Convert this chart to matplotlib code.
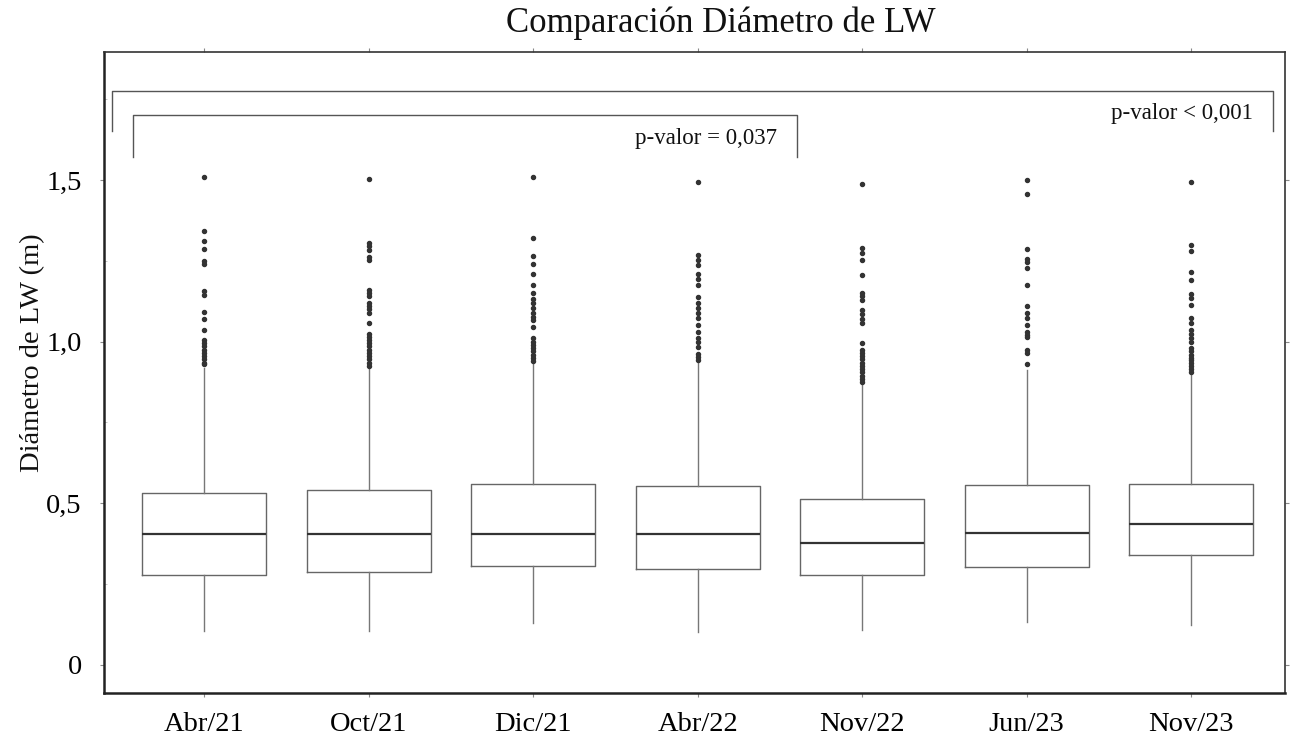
import numpy as np
import matplotlib
matplotlib.use("Agg")
import matplotlib.pyplot as plt
from matplotlib.ticker import FuncFormatter, MultipleLocator

plt.rcParams['font.family'] = ['Liberation Serif', 'DejaVu Serif']

# campañas de muestreo
labels = ['Abr/21', 'Oct/21', 'Dic/21', 'Abr/22', 'Nov/22', 'Jun/23', 'Nov/23']

# estadísticos de cada caja (m)
whislo = [0.105, 0.105, 0.130, 0.102, 0.108, 0.133, 0.124]
q1 = [0.278, 0.288, 0.306, 0.297, 0.278, 0.303, 0.340]
med = [0.405, 0.405, 0.405, 0.405, 0.377, 0.408, 0.436]
q3 = [0.532, 0.541, 0.560, 0.554, 0.513, 0.557, 0.560]
whishi = [0.919, 0.920, 0.940, 0.940, 0.866, 0.912, 0.900]

# valores atípicos
out_abr21 = [1.508, 1.341, 1.311, 1.287, 1.25, 1.24, 1.158, 1.143, 1.093, 1.069,
             1.036, 1.005, 0.995, 0.985, 0.975, 0.965, 0.955, 0.945, 0.935, 0.93]
out_oct21 = [1.503, 1.306, 1.295, 1.283, 1.263, 1.253, 1.16, 1.15, 1.14, 1.12,
             1.11, 1.10, 1.09, 1.059, 1.025, 1.015, 1.005, 0.995, 0.985, 0.975,
             0.965, 0.955, 0.945, 0.935, 0.925]
out_dic21 = [1.508, 1.32, 1.265, 1.24, 1.208, 1.174, 1.152, 1.133, 1.12, 1.105,
             1.09, 1.075, 1.067, 1.046, 1.01, 1.0, 0.99, 0.98, 0.97, 0.96, 0.95, 0.94]
out_abr22 = [1.495, 1.268, 1.253, 1.237, 1.208, 1.193, 1.174, 1.137, 1.12, 1.105,
             1.09, 1.072, 1.05, 1.031, 1.01, 1.0, 0.982, 0.962, 0.952, 0.943]
out_nov22 = [1.488, 1.289, 1.275, 1.254, 1.206, 1.15, 1.14, 1.129, 1.098, 1.085,
             1.07, 1.057, 0.995, 0.974, 0.965, 0.955, 0.945, 0.935, 0.925, 0.915,
             0.905, 0.895, 0.885, 0.875]
out_jun23 = [1.50, 1.456, 1.287, 1.257, 1.247, 1.229, 1.174, 1.11, 1.088, 1.072,
             1.05, 1.031, 1.02, 1.015, 0.974, 0.965, 0.93]
out_nov23 = [1.495, 1.299, 1.281, 1.216, 1.191, 1.148, 1.135, 1.114, 1.073, 1.058,
             1.036, 1.025, 1.01, 1.0, 0.98, 0.97, 0.96, 0.95, 0.943, 0.935, 0.925,
             0.915, 0.905]
outliers = [out_abr21, out_oct21, out_dic21, out_abr22, out_nov22, out_jun23, out_nov23]

# comparaciones (grupo inicial, grupo final, texto)
comparisons = [(1, 4, 'p-valor = 0,037'), (1, 7, 'p-valor < 0,001')]

stats = []
for i in range(len(labels)):
    stats.append({'label': labels[i], 'whislo': whislo[i], 'q1': q1[i], 'med': med[i],
                  'q3': q3[i], 'whishi': whishi[i], 'fliers': outliers[i]})

fig = plt.figure(figsize=(12.91, 7.40), dpi=100)
ax = fig.add_axes([0.0806, 0.0635, 0.9148, 0.8662])

ax.bxp(stats, positions=range(1, 8), widths=0.754, showcaps=False,
       boxprops=dict(color='#666666', linewidth=1.0),
       whiskerprops=dict(color='#777777', linewidth=1.0),
       medianprops=dict(color='#333333', linewidth=1.6),
       flierprops=dict(marker='o', markersize=2.9, markerfacecolor='#333333',
                       markeredgecolor='#333333', linestyle='none'))

ax.set_xlim(0.392, 7.571)
ax.set_ylim(-0.087, 1.896)
ax.yaxis.set_major_locator(MultipleLocator(0.5))
ax.yaxis.set_minor_locator(MultipleLocator(0.25))
ax.yaxis.set_major_formatter(FuncFormatter(
    lambda v, p: '0' if abs(v) < 1e-9 else ('%.1f' % v).replace('.', ',')))
ax.tick_params(axis='both', which='major', labelsize=20.5, length=3, width=0.8,
               color='#888888', direction='out', top=True, right=True)
ax.tick_params(axis='y', which='minor', length=2, width=0.6, color='#bbbbbb',
               direction='in')
ax.tick_params(axis='x', pad=11)
ax.tick_params(axis='y', pad=13)

for side in ['left', 'bottom']:
    ax.spines[side].set_linewidth(1.8)
    ax.spines[side].set_color('#222222')
for side in ['top', 'right']:
    ax.spines[side].set_linewidth(1.2)
    ax.spines[side].set_color('#333333')

# corchetes de significación
bracket_x = [(0.568, 4.605), (0.441, 7.499)]
bracket_top = [1.701, 1.775]
bracket_bot = [1.571, 1.652]
for k, (g0, g1, txt) in enumerate(comparisons):
    x0, x1 = bracket_x[k]
    ax.plot([x0, x0, x1, x1], [bracket_bot[k], bracket_top[k], bracket_top[k], bracket_bot[k]],
            color='#555555', linewidth=1.0, clip_on=False)
    ax.text(x1 - 0.125, (bracket_top[k] + bracket_bot[k]) / 2 - 0.008, txt,
            ha='right', va='center', fontsize=16.5, color='#111111')

fig.text(0.5585, 0.968, 'Comparación Diámetro de LW', ha='center', va='center',
         fontsize=25, color='#111111')
fig.text(0.025, 0.524, 'Diámetro de LW (m)', ha='center', va='center',
         rotation=90, fontsize=20.5, color='#111111')

fig.savefig('out.png', dpi=100)
